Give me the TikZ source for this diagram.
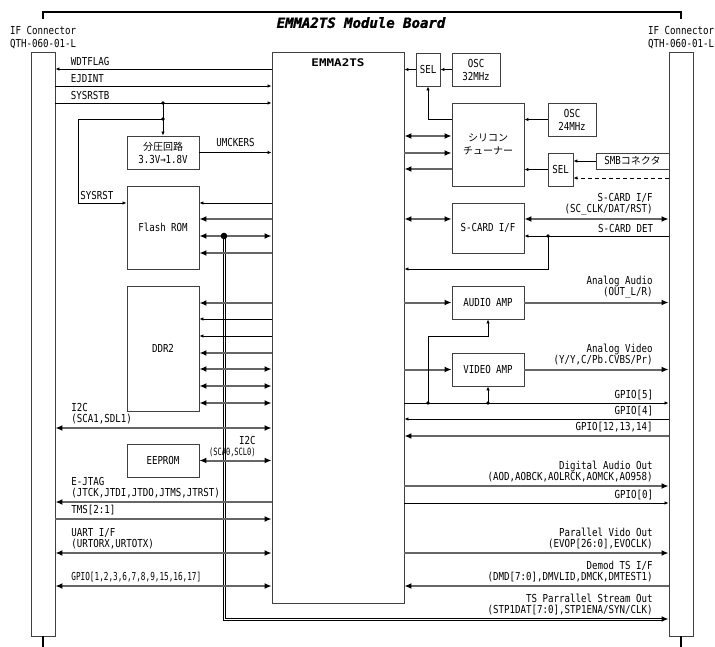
\documentclass[tikz,border=0pt]{standalone}
\usepackage{fontspec}
\setmainfont{DejaVu Sans Mono}[FakeStretch=0.83]
\newfontfamily\jpfont{Noto Sans CJK JP}
\newfontfamily\narrowfont{DejaVu Sans Mono}[FakeStretch=0.7]
\newfontfamily\titlefont{DejaVu Sans Mono Bold Oblique}[FakeStretch=1.0, FakeBold=1.5]
\newfontfamily\chipfont{DejaVu Sans Mono Bold}[FakeStretch=1.2]
\usetikzlibrary{arrows.meta}
\newcommand{\sigfont}{\fontsize{11}{11}\selectfont}
\newcommand{\boxfont}{\fontsize{11}{13}\selectfont}
\newcommand{\minifont}{\narrowfont\fontsize{11}{11}\selectfont}
\newcommand{\tinyfont}{\narrowfont\fontsize{10}{10}\selectfont}
\newcommand{\jp}[1]{{\jpfont\fontsize{10}{13}\selectfont #1}}
\tikzset{
  blk/.style={draw=black!75, line width=0.9pt, fill=white, inner sep=1pt,
    align=center, font=\boxfont},
  conn/.style={blk, minimum width=24pt, minimum height=584pt},
  sig/.style={line width=0.8pt, >={Latex[length=4pt,width=3.5pt]}},
  bus/.style={line width=2pt, draw=black!60,
    >={Latex[length=7pt,width=6pt,color=black]}},
  frame/.style={line width=1.6pt},
  ltxt/.style={pos=0, anchor=south west, xshift=15pt, yshift=3pt,
    inner sep=0pt, align=left, font=\sigfont},
  rtxt/.style={pos=1, anchor=south east, xshift=-15pt, yshift=3pt,
    inner sep=0pt, align=right, font=\sigfont}
}
\begin{document}
\begin{tikzpicture}[x=1pt, y=-1pt, line cap=butt]
  \useasboundingbox (0,0) rectangle (715,647);

  % IF connectors and board frame
  \node[conn] (lconn) at (43,344) {};
  \node[conn] (rconn) at (681,344) {};
  \node[font=\boxfont, align=left, anchor=north west, inner sep=0pt] (lname) at (10,26) {IF Connector\\QTH-060-01-L};
  \node[font=\boxfont, align=left, anchor=north west, inner sep=0pt] (rname) at (648,26) {IF Connector\\QTH-060-01-L};
  \draw[frame] (lconn.north |- 0,19) -- (lconn.north |- 0,12) -- (rconn.north |- 0,12) -- (rconn.north |- 0,19);
  \draw[frame] (lconn.south) -- ++(0,11);
  \draw[frame] (rconn.south) -- ++(0,11);
  \node[font=\titlefont\fontsize{14}{14}\selectfont, anchor=north, inner sep=0pt] (title) at (361,17) {EMMA2TS Module Board};

  % main chip
  \node[blk, minimum width=132pt, minimum height=551pt] (emma) at (338,327.5) {};
  \node[font=\chipfont\fontsize{10.5}{11}\selectfont, anchor=north, inner sep=0pt] (emmaname) at (338,59) {EMMA2TS};

  % left blocks
  \node[blk, minimum width=72pt, minimum height=33pt] (div) at (163,152.5) {\jp{分圧回路}\\3.3V→1.8V};
  \node[blk, minimum width=72pt, minimum height=83pt] (flash) at (163,227.5) {Flash ROM};
  \node[blk, minimum width=72pt, minimum height=125pt] (ddr) at (163,348.5) {DDR2};
  \node[blk, minimum width=72pt, minimum height=33pt] (eeprom) at (163,460.5) {EEPROM};

  % right blocks
  \node[blk, minimum width=24pt, minimum height=33pt] (selA) at (428,69.5) {SEL};
  \node[blk, minimum width=48pt, minimum height=33pt] (oscA) at (476,69.5) {OSC\\32MHz};
  \node[blk, minimum width=72pt, minimum height=83pt] (tuner) at (488,144.5) {\jp{シリコン}\\\jp{チューナー}};
  \node[blk, minimum width=48pt, minimum height=33pt] (oscB) at (572,119.5) {OSC\\24MHz};
  \node[blk, minimum width=25pt, minimum height=33pt] (selB) at (560.5,169.5) {SEL};
  \node[blk, minimum width=73pt, minimum height=16pt] (smb) at (632.5,161) {SMB\jp{コネクタ}};
  \node[blk, minimum width=72pt, minimum height=50pt] (scard) at (488,228) {S-CARD I/F};
  \node[blk, minimum width=72pt, minimum height=33pt] (aamp) at (488,302.5) {AUDIO AMP};
  \node[blk, minimum width=72pt, minimum height=33pt] (vamp) at (488,369.5) {VIDEO AMP};

  % TS stream out, two parallel lines (the other lines cross over them)
  \coordinate (tsj) at (224,236);
  \coordinate (tsc) at (224,619);
  \coordinate (tse) at (663,619);
  \draw[sig] ([xshift=-0.9pt]tsj) -- ([xshift=-0.9pt,yshift=-1.1pt]tsc) -- ([yshift=-1.1pt]tse);
  \draw[sig] ([xshift=0.9pt]tsj) -- ([xshift=0.9pt,yshift=1.1pt]tsc) -- ([yshift=1.1pt]tse);
  \draw[bus,->,draw=black] (tse) -- (rconn.west |- tse) node[rtxt] (l-ts) {TS Parrallel Stream Out\\(STP1DAT[7:0],STP1ENA/SYN/CLK)};

  % left connector signals
  \draw[sig,<-] (lconn.east |- 0,69) -- (emma.west |- 0,69) node[ltxt] (l-wdt) {WDTFLAG};
  \draw[sig,->] (lconn.east |- 0,86) -- (emma.west |- 0,86) node[ltxt] (l-ejd) {EJDINT};
  \draw[sig,->] (lconn.east |- 0,103) -- (emma.west |- 0,103) node[ltxt] (l-srb) {SYSRSTB};
  \draw[bus,<->] (lconn.east |- 0,428) -- (emma.west |- 0,428) node[ltxt] (l-i2ca) {I2C\\(SCA1,SDL1)};
  \draw[bus,<-] (lconn.east |- 0,502) -- (emma.west |- 0,502) node[ltxt] (l-jtag) {E-JTAG\\(JTCK,JTDI,JTDO,JTMS,JTRST)};
  \draw[bus,->] (lconn.east |- 0,519) -- (emma.west |- 0,519) node[ltxt] (l-tms) {TMS[2:1]};
  \draw[bus,<->] (lconn.east |- 0,553) -- (emma.west |- 0,553) node[ltxt] (l-uart) {UART I/F\\(URTORX,URTOTX)};
  \draw[bus,<->] (lconn.east |- 0,586) -- (emma.west |- 0,586) node[ltxt, font=\minifont] (l-gpio) {GPIO[1,2,3,6,7,8,9,15,16,17]};

  % reset and divider
  \coordinate (rst) at (div.north |- 0,103);
  \coordinate (rsb) at (div.north |- 0,119);
  \draw[sig,->] (rst) -- (div.north);
  \draw[sig,->] (rsb) -- (78,119) -- (78,203) -- (flash.west |- 0,203) node[pos=0, anchor=south west, xshift=2pt, yshift=3pt, inner sep=0pt, font=\sigfont] (l-rst) {SYSRST};
  \draw[sig,->] (div.east) -- (emma.west |- div.east) node[midway, above=5pt, inner sep=0pt, font=\sigfont] (l-umck) {UMCKERS};

  % Flash ROM
  \draw[sig,<-] (flash.east |- 0,203) -- (emma.west |- 0,203);
  \draw[bus,<-] (flash.east |- 0,219) -- (emma.west |- 0,219);
  \draw[bus,<->] (flash.east |- 0,236) -- (emma.west |- 0,236);
  \draw[bus,<-] (flash.east |- 0,253) -- (emma.west |- 0,253);

  % DDR2
  \draw[bus,<-] (ddr.east |- 0,303) -- (emma.west |- 0,303);
  \draw[sig,<-] (ddr.east |- 0,319) -- (emma.west |- 0,319);
  \draw[sig,<-] (ddr.east |- 0,336) -- (emma.west |- 0,336);
  \draw[bus,<-] (ddr.east |- 0,353) -- (emma.west |- 0,353);
  \draw[bus,<->] (ddr.east |- 0,369) -- (emma.west |- 0,369);
  \draw[bus,<->] (ddr.east |- 0,386) -- (emma.west |- 0,386);
  \draw[bus,<->] (ddr.east |- 0,403) -- (emma.west |- 0,403);

  % EEPROM
  \draw[bus,<->] (eeprom.east) -- (emma.west |- eeprom.east) node[rtxt] (l-i2cb) {I2C\\{\tinyfont (SCA0,SCL0)}};

  % clocks and tuner
  \draw[sig,->] (oscA) -- (selA);
  \draw[sig,->] (selA) -- (emma.east |- selA);
  \draw[sig,->] (tuner.west |- 0,119) -| (selA.south);
  \draw[sig,->] (oscB) -- (tuner.east |- oscB);
  \draw[sig,->] (selB) -- (tuner.east |- selB);
  \draw[sig,->] (smb) -- (selB.east |- smb);
  \draw[sig,->,dashed,dash pattern=on 4pt off 3pt] (rconn.west |- 0,178) -- (selB.east |- 0,178);
  \draw[bus,<->] (emma.east |- 0,136) -- (tuner.west |- 0,136);
  \draw[bus,->] (emma.east |- 0,153) -- (tuner.west |- 0,153);
  \draw[bus,<-] (emma.east |- 0,169) -- (tuner.west |- 0,169);

  % S-CARD
  \draw[bus,<->] (emma.east |- 0,219) -- (scard.west |- 0,219);
  \draw[bus,<->] (scard.east |- 0,219) -- (rconn.west |- 0,219) node[rtxt] (l-sc) {S-CARD I/F\\(SC\_CLK/DAT/RST)};
  \coordinate (det) at (548,236);
  \draw[sig,<-] (scard.east |- det) -- (rconn.west |- det) node[rtxt] (l-det) {S-CARD DET};
  \draw[sig,->] (det) -- (det |- 0,269) -- (emma.east |- 0,269);

  % analog outputs
  \draw[bus,->] (emma.east |- aamp) -- (aamp);
  \draw[bus,->] (aamp) -- (rconn.west |- aamp) node[rtxt] (l-aa) {Analog Audio\\(OUT\_L/R)};
  \draw[bus,->] (emma.east |- vamp) -- (vamp);
  \draw[bus,->] (vamp) -- (rconn.west |- vamp) node[rtxt] (l-av) {Analog Video\\(Y/Y,C/Pb.CVBS/Pr)};
  \coordinate (g5a) at (428,403);
  \coordinate (g5b) at (aamp.south |- 0,403);
  \draw[sig,->] (emma.east |- 0,403) -- (rconn.west |- 0,403) node[rtxt] (l-g5) {GPIO[5]};
  \draw[sig,->] (g5a) -- (g5a |- 0,336) -| (aamp.south);
  \draw[sig,->] (g5b) -- (vamp.south);

  % right connector signals
  \draw[sig,<-] (emma.east |- 0,419) -- (rconn.west |- 0,419) node[rtxt] (l-g4) {GPIO[4]};
  \draw[bus,<-] (emma.east |- 0,436) -- (rconn.west |- 0,436) node[rtxt] (l-g12) {GPIO[12,13,14]};
  \draw[bus,->] (emma.east |- 0,486) -- (rconn.west |- 0,486) node[rtxt] (l-da) {Digital Audio Out\\(AOD,AOBCK,AOLRCK,AOMCK,AO958)};
  \draw[sig,->] (emma.east |- 0,503) -- (rconn.west |- 0,503) node[rtxt] (l-g0) {GPIO[0]};
  \draw[bus,->] (emma.east |- 0,553) -- (rconn.west |- 0,553) node[rtxt] (l-pv) {Parallel Vido Out\\(EVOP[26:0],EVOCLK)};
  \draw[bus,<-] (emma.east |- 0,586) -- (rconn.west |- 0,586) node[rtxt] (l-dm) {Demod TS I/F\\(DMD[7:0],DMVLID,DMCK,DMTEST1)};

  % junction dots
  \fill (rst) circle (1.8pt);
  \fill (rsb) circle (1.8pt);
  \fill (det) circle (1.8pt);
  \fill (g5a) circle (1.8pt);
  \fill (g5b) circle (1.8pt);
  \fill (tsj) circle (3.3pt);
\end{tikzpicture}
\end{document}
